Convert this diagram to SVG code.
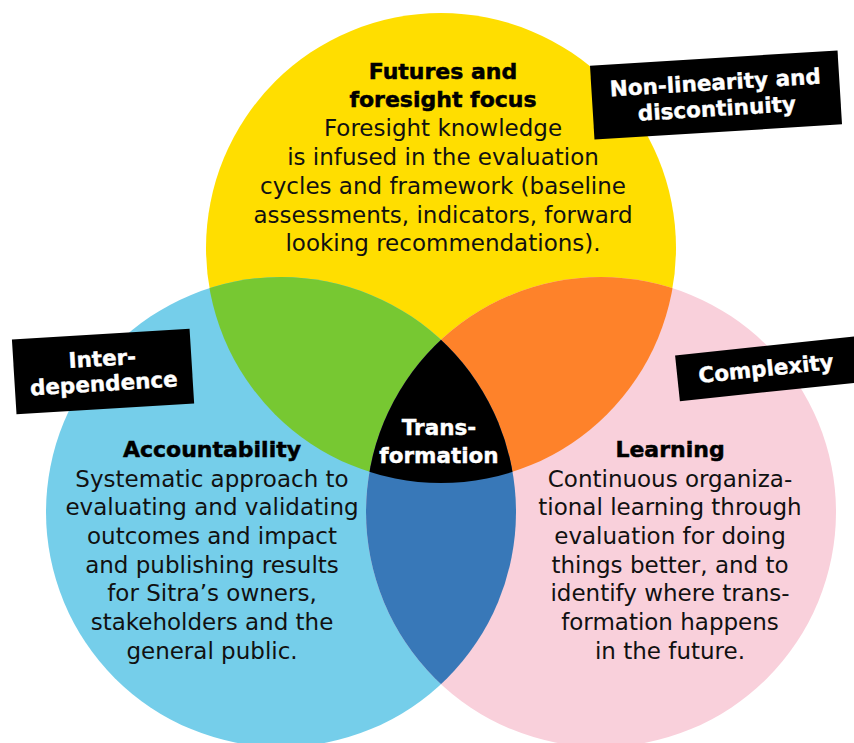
<svg xmlns="http://www.w3.org/2000/svg" width="854" height="743" viewBox="0 0 854 743">
  <defs>
    <clipPath id="clip-blue"><circle cx="281" cy="512" r="235"/></clipPath>
    <clipPath id="clip-pink"><circle cx="601" cy="512" r="235"/></clipPath>
  </defs>
  <style>
    .title{font-family:"DejaVu Sans",sans-serif;font-weight:bold;font-size:22px;fill:#000;stroke:#000;stroke-width:0.5;text-anchor:middle}
    .body{font-family:"DejaVu Sans",sans-serif;font-size:23px;fill:#111;text-anchor:middle}
    .tag{fill:#000}
    .tagtext{font-family:"DejaVu Sans",sans-serif;font-weight:bold;font-size:21.5px;fill:#fff;stroke:#fff;stroke-width:0.4;text-anchor:middle}
  </style>
  <rect width="854" height="743" fill="#fff"/>

  <!-- base circles -->
  <g id="circle-futures"><circle cx="441" cy="248" r="235" fill="#FFDE00"/></g>
  <g id="circle-accountability"><circle cx="281" cy="512" r="235" fill="#75CEEA"/></g>
  <g id="circle-learning"><circle cx="601" cy="512" r="235" fill="#F9D0DB"/></g>

  <!-- pairwise overlaps -->
  <g id="overlap-futures-accountability" clip-path="url(#clip-blue)">
    <circle cx="441" cy="248" r="235" fill="#77C832"/>
  </g>
  <g id="overlap-futures-learning" clip-path="url(#clip-pink)">
    <circle cx="441" cy="248" r="235" fill="#FE822A"/>
  </g>
  <g id="overlap-accountability-learning" clip-path="url(#clip-pink)">
    <circle cx="281" cy="512" r="235" fill="#3878B8"/>
  </g>
  <!-- centre: all three -->
  <g id="transformation">
    <g clip-path="url(#clip-pink)">
      <g clip-path="url(#clip-blue)">
        <circle cx="441" cy="248" r="235" fill="#000"/>
      </g>
    </g>
    <text class="tagtext" x="439" y="435">Trans-</text>
    <text class="tagtext" x="439" y="463">formation</text>
  </g>

  <!-- circle texts -->
  <g id="text-futures">
    <text class="title" x="443" y="79">Futures and</text>
    <text class="title" x="443" y="107">foresight focus</text>
    <text class="body" x="443" y="136">Foresight knowledge</text>
    <text class="body" x="443" y="165">is infused in the evaluation</text>
    <text class="body" x="443" y="194">cycles and framework (baseline</text>
    <text class="body" x="443" y="222.5">assessments, indicators, forward</text>
    <text class="body" x="443" y="251">looking recommendations).</text>
  </g>
  <g id="text-accountability">
    <text class="title" x="212" y="457">Accountability</text>
    <text class="body" x="212" y="486.5">Systematic approach to</text>
    <text class="body" x="212" y="515">evaluating and validating</text>
    <text class="body" x="212" y="544">outcomes and impact</text>
    <text class="body" x="212" y="572.5">and publishing results</text>
    <text class="body" x="212" y="601">for Sitra’s owners,</text>
    <text class="body" x="212" y="630">stakeholders and the</text>
    <text class="body" x="212" y="658.5">general public.</text>
  </g>
  <g id="text-learning">
    <text class="title" x="670" y="457">Learning</text>
    <text class="body" x="670" y="486.5">Continuous organiza-</text>
    <text class="body" x="670" y="515">tional learning through</text>
    <text class="body" x="670" y="544">evaluation for doing</text>
    <text class="body" x="670" y="572.5">things better, and to</text>
    <text class="body" x="670" y="601">identify where trans-</text>
    <text class="body" x="670" y="630">formation happens</text>
    <text class="body" x="670" y="658.5">in the future.</text>
  </g>

  <!-- black tags -->
  <g id="tag-nonlinearity" transform="translate(716,95) rotate(-3.5)">
    <rect class="tag" x="-124" y="-37" width="248" height="74"/>
    <text class="tagtext" x="0" y="-5">Non-linearity and</text>
    <text class="tagtext" x="0" y="21">discontinuity</text>
  </g>
  <g id="tag-interdependence" transform="translate(103,371) rotate(-3.5)">
    <rect class="tag" x="-89" y="-37" width="178" height="75"/>
    <text class="tagtext" x="0" y="-5">Inter-</text>
    <text class="tagtext" x="0" y="20">dependence</text>
  </g>
  <g id="tag-complexity" transform="translate(766,369) rotate(-6)">
    <rect class="tag" x="-89" y="-23" width="220" height="46"/>
    <text class="tagtext" x="0" y="7">Complexity</text>
  </g>
</svg>
